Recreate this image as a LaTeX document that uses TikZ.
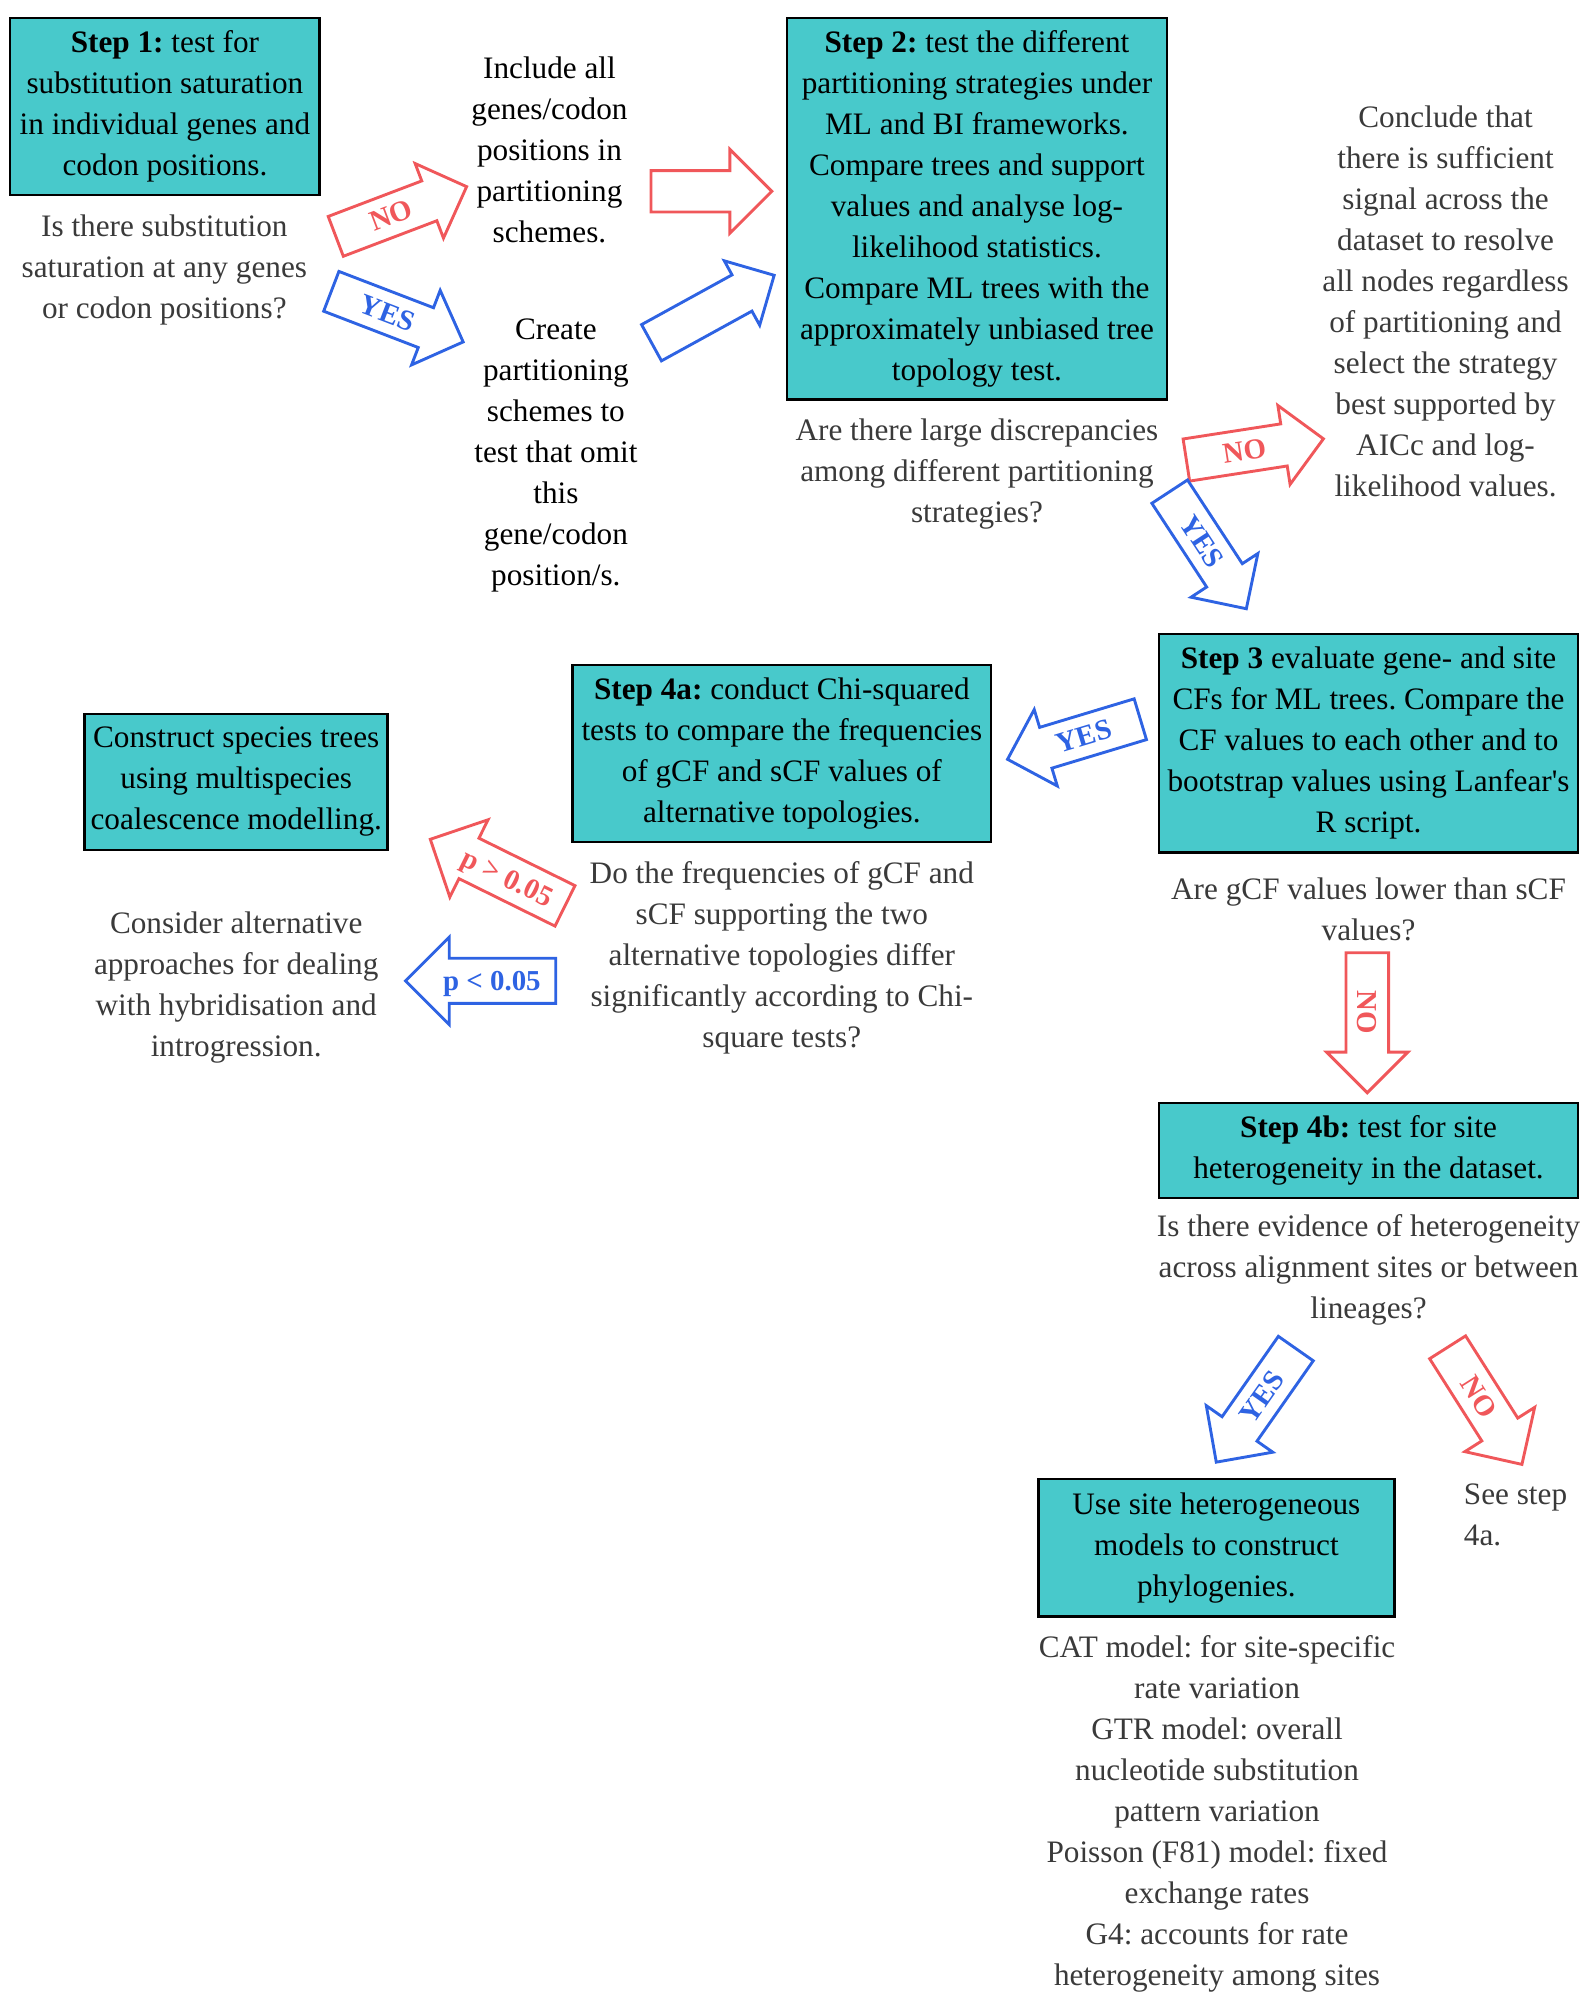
\documentclass[tikz,border=0pt]{standalone}
\usepackage{fontspec}
\setmainfont{Liberation Serif}
\usetikzlibrary{shapes.arrows}

\definecolor{boxteal}{HTML}{48C9CB}
\definecolor{arrred}{HTML}{F0575A}
\definecolor{arrblue}{HTML}{2E63E3}
\definecolor{notegray}{HTML}{3A3A3A}

\newcommand{\bodyfont}{\fontsize{17.3}{22.7}\selectfont}
\newcommand{\arrfont}{\fontsize{16}{18}\selectfont\bfseries}
\frenchspacing

\begin{document}
\begin{tikzpicture}[
  x=0.025cm, y=-0.025cm,
  font=\bodyfont,
  box/.style={draw=black, line width=1.4pt, fill=boxteal, inner sep=0pt, align=center, text=black},
  note/.style={align=center, text=notegray, inner sep=0pt},
  plain/.style={align=center, text=black, inner sep=0pt},
  shaft/.style 2 args={text height=#1, text depth=#2},
  bigarrow/.style={single arrow, draw, line width=1.6pt, fill=white, anchor=tail,
    single arrow head extend=0.3625cm, minimum width=0pt, minimum height=2.7cm,
    inner ysep=0pt, inner xsep=2pt, shaft={16.3pt}{5.7pt}, font=\arrfont},
  noarr/.style={bigarrow, draw=arrred, text=arrred},
  yesarr/.style={bigarrow, draw=arrblue, text=arrblue}
]
\useasboundingbox (0,0) rectangle (1236,1568);

% boxes
\node[box, minimum width=6.025cm, minimum height=3.45cm] (step1) at (128.5,83)
  {\textbf{Step 1:} test for\\substitution saturation\\in individual genes and\\codon positions.};
\node[box, minimum width=7.4cm, minimum height=7.425cm] (step2) at (761,162.5)
  {\textbf{Step 2:} test the different\\partitioning strategies under\\ML and BI frameworks.\\Compare trees and support\\values and analyse log-\\likelihood statistics.\\Compare ML trees with the\\approximately unbiased tree\\topology test.};
\node[box, minimum width=8.15cm, minimum height=4.25cm] (step3) at (1066,579)
  {\textbf{Step 3} evaluate gene- and site\\CFs for ML trees. Compare the\\CF values to each other and to\\bootstrap values using Lanfear\textquotesingle s\\R script.};
\node[box, minimum width=8.15cm, minimum height=3.45cm] (step4a) at (609,587)
  {\textbf{Step 4a:} conduct Chi-squared\\tests to compare the frequencies\\of gCF and sCF values of\\alternative topologies.};
\node[box, minimum width=5.9cm, minimum height=2.65cm] (species) at (184,609)
  {Construct species trees\\using multispecies\\coalescence modelling.};
\node[box, minimum width=8.15cm, minimum height=1.85cm] (step4b) at (1066,896)
  {\textbf{Step 4b:} test for site\\heterogeneity in the dataset.};
\node[box, minimum width=6.925cm, minimum height=2.675cm] (sitehet) at (947.5,1205.5)
  {Use site heterogeneous\\models to construct\\phylogenies.};

% questions and outcomes
\node[note] (q1) at (128,210) {Is there substitution\\saturation at any genes\\or codon positions?};
\node[plain] (include) at (428,117) {Include all\\genes/codon\\positions in\\partitioning\\schemes.};
\node[plain] (create) at (433,355) {Create\\partitioning\\schemes to\\test that omit\\this\\gene/codon\\position/s.};
\node[note] (q2) at (761,369) {Are there large discrepancies\\among different partitioning\\strategies?};
\node[note] (conclude) at (1126,235) {Conclude that\\there is sufficient\\signal across the\\dataset to resolve\\all nodes regardless\\of partitioning and\\select the strategy\\best supported by\\AICc and log-\\likelihood values.};
\node[note] (q3) at (1066,708) {Are gCF values lower than sCF\\values?};
\node[note] (q4a) at (609,746) {Do the frequencies of gCF and\\sCF supporting the two\\alternative topologies differ\\significantly according to Chi-\\square tests?};
\node[note] (consider) at (184,769) {Consider alternative\\approaches for dealing\\with hybridisation and\\introgression.};
\node[note] (q4b) at (1066,989) {Is there evidence of heterogeneity\\across alignment sites or between\\lineages?};
\node[note] (models) at (948,1413) {CAT model: for site-specific\\rate variation\\GTR model: overall\\nucleotide substitution\\pattern variation\\Poisson (F81) model: fixed\\exchange rates\\G4: accounts for rate\\heterogeneity among sites};
\node[note, align=left, anchor=west] (seestep) at (1140,1180) {See step\\4a.};

% block arrows
\node[noarr, rotate=20.8, minimum height=2.725cm] (no1) at (260.5,184.5) {NO};
\node[yesarr, rotate=-21, minimum height=2.75cm] (yes1) at (257,226.5) {YES};
\node[noarr, minimum height=2.35cm, shaft={16pt}{5.3pt}, single arrow head extend=0.4125cm] (incl2step) at (506,149) {};
\node[yesarr, rotate=28.8, minimum height=2.725cm, shaft={16pt}{5.3pt}, single arrow head extend=0.3125cm] (create2step) at (506.5,267.5) {};
\node[noarr, rotate=8.8] (no2) at (923,358.5) {NO};
\node[yesarr, rotate=-56.8, minimum height=2.725cm] (yes2) at (910.5,382) {YES};
\node[yesarr, shape border rotate=180, rotate=16.8] (yes3) at (889.3,559.9) {YES};
\node[noarr, shape border rotate=180, rotate=-26.3, minimum height=2.925cm, shaft={17pt}{6.4pt}, single arrow head extend=0.4cm] (pbig) at (441.1,706.1) {p > 0.05};
\node[yesarr, shape border rotate=180, minimum height=2.925cm, shaft={17pt}{6.4pt}, single arrow head extend=0.4125cm] (psmall) at (434,764) {p < 0.05};
\node[noarr, rotate=-90, minimum height=2.725cm, single arrow head extend=0.375cm] (no3) at (1065,741) {NO};
\node[yesarr, shape border rotate=180, rotate=55, single arrow head extend=0.375cm] (yes4) at (1010,1049.5) {YES};
\node[noarr, rotate=-57.6, single arrow head extend=0.39cm] (no4) at (1127,1048.5) {NO};
\end{tikzpicture}
\end{document}
